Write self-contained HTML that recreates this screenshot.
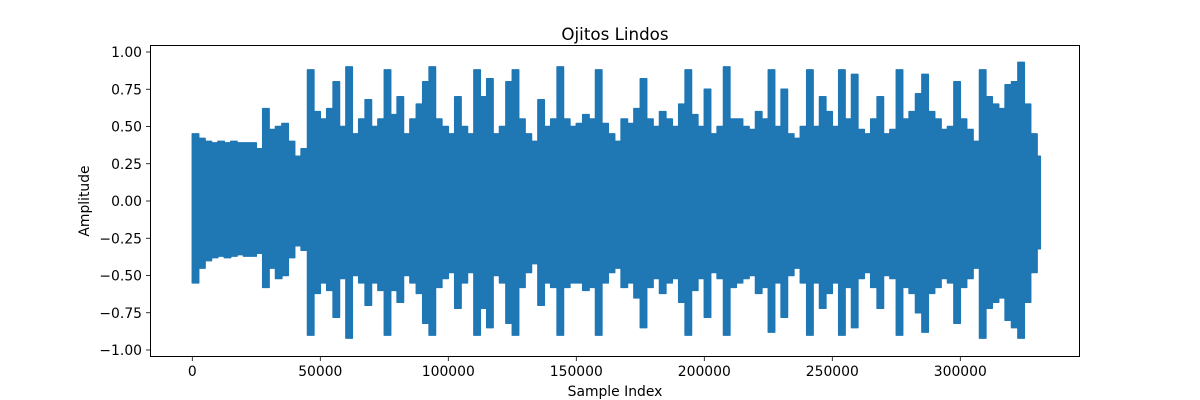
<!DOCTYPE html>
<html><head><meta charset="utf-8"><style>
body{margin:0;background:#fff;}
svg{display:block;font-family:"DejaVu Sans","Liberation Sans",sans-serif;}
</style></head><body>
<svg id="chart" width="1200" height="400">
<text x="615" y="40" text-anchor="middle" font-size="16.7">Ojitos Lindos</text>
<g id="plot"></g>
<g id="xaxis"></g>
<g id="yaxis"></g>
<rect x="150.5" y="45.5" width="929" height="311" fill="none" stroke="#000" stroke-width="1"/>
<text x="615" y="396" text-anchor="middle" font-size="13.9">Sample Index</text>
<text x="0" y="0" transform="translate(89,201) rotate(-90)" text-anchor="middle" font-size="13.9">Amplitude</text>
</svg>
<script>
const sampleStep = 2500;
const upperEnvelope = [0.45,0.42,0.40,0.39,0.40,0.39,0.40,0.39,0.39,0.39,0.35,0.62,0.48,0.50,0.52,0.40,0.30,0.35,0.88,0.60,0.55,0.62,0.80,0.50,0.90,0.45,0.55,0.68,0.50,0.55,0.88,0.58,0.70,0.45,0.55,0.65,0.80,0.90,0.55,0.50,0.45,0.70,0.50,0.45,0.88,0.70,0.82,0.45,0.50,0.80,0.88,0.55,0.45,0.40,0.68,0.50,0.55,0.90,0.55,0.50,0.52,0.58,0.55,0.88,0.52,0.45,0.40,0.55,0.52,0.62,0.82,0.55,0.50,0.60,0.55,0.50,0.65,0.88,0.58,0.50,0.75,0.45,0.50,0.90,0.55,0.55,0.50,0.48,0.60,0.55,0.88,0.50,0.75,0.45,0.42,0.50,0.88,0.50,0.70,0.60,0.50,0.88,0.55,0.85,0.48,0.45,0.55,0.70,0.45,0.48,0.88,0.55,0.60,0.72,0.85,0.60,0.55,0.48,0.50,0.80,0.55,0.48,0.40,0.88,0.70,0.65,0.62,0.78,0.80,0.93,0.65,0.45,0.30];
const lowerEnvelope = [-0.55,-0.45,-0.40,-0.38,-0.37,-0.38,-0.37,-0.36,-0.37,-0.37,-0.35,-0.58,-0.45,-0.52,-0.50,-0.38,-0.30,-0.33,-0.90,-0.62,-0.55,-0.60,-0.78,-0.52,-0.92,-0.50,-0.55,-0.70,-0.55,-0.60,-0.90,-0.60,-0.68,-0.50,-0.55,-0.62,-0.82,-0.90,-0.58,-0.52,-0.48,-0.72,-0.55,-0.48,-0.90,-0.72,-0.85,-0.50,-0.55,-0.82,-0.90,-0.58,-0.48,-0.42,-0.70,-0.55,-0.58,-0.90,-0.58,-0.55,-0.55,-0.60,-0.58,-0.90,-0.55,-0.48,-0.45,-0.58,-0.55,-0.65,-0.85,-0.58,-0.52,-0.62,-0.55,-0.52,-0.68,-0.90,-0.60,-0.52,-0.78,-0.48,-0.52,-0.90,-0.58,-0.55,-0.52,-0.50,-0.62,-0.58,-0.88,-0.55,-0.78,-0.50,-0.45,-0.55,-0.90,-0.55,-0.72,-0.62,-0.55,-0.90,-0.58,-0.85,-0.52,-0.48,-0.58,-0.72,-0.50,-0.52,-0.90,-0.58,-0.62,-0.75,-0.88,-0.62,-0.58,-0.52,-0.55,-0.82,-0.58,-0.52,-0.45,-0.92,-0.72,-0.68,-0.65,-0.80,-0.85,-0.92,-0.68,-0.48,-0.32];
const xTickValues = [0,50000,100000,150000,200000,250000,300000];
const xTickLabels = ["0","50000","100000","150000","200000","250000","300000"];
const yTickValues = [-1,-0.75,-0.5,-0.25,0,0.25,0.5,0.75,1];
const yTickLabels = ["\u22121.00","\u22120.75","\u22120.50","\u22120.25","0.00","0.25","0.50","0.75","1.00"];

const NS = "http://www.w3.org/2000/svg";
function xScale(s){ return 192.3 + s * 128 / 50000; }
function yScale(v){ return 201 - v * 149; }
function mk(tag, attrs, parent){ const e = document.createElementNS(NS, tag); for (const k in attrs) e.setAttribute(k, attrs[k]); parent.appendChild(e); return e; }

const plot = document.getElementById('plot');
const n = upperEnvelope.length;
let pts = [];
for (let i = 0; i < n; i++) {
  const x0 = xScale(i*sampleStep), x1 = xScale(Math.min((i+1)*sampleStep, (n-1)*sampleStep + sampleStep*0.5));
  const y = yScale(upperEnvelope[i]).toFixed(1);
  pts.push(x0.toFixed(1)+','+y, x1.toFixed(1)+','+y);
}
for (let i = n-1; i >= 0; i--) {
  const x0 = xScale(i*sampleStep), x1 = xScale(Math.min((i+1)*sampleStep, (n-1)*sampleStep + sampleStep*0.5));
  const y = yScale(lowerEnvelope[i]).toFixed(1);
  pts.push(x1.toFixed(1)+','+y, x0.toFixed(1)+','+y);
}
const wave = mk('polygon', {points: pts.join(' '), fill:'#1f77b4', stroke:'#1f77b4', 'stroke-width':'1.5', 'stroke-linejoin':'round'}, plot);



const xa = document.getElementById('xaxis');
xTickValues.forEach((v,i)=>{
  const x = xScale(v);
  const t = mk('line', {x1:x, x2:x, y1:357, y2:361, stroke:'#000', 'stroke-width':'0.8'}, xa);
  
  
  const l = mk('text', {x:x, y:376, 'text-anchor':'middle', 'font-size':'13.9'}, xa);
  l.textContent = xTickLabels[i];
  
  
});
const ya = document.getElementById('yaxis');
yTickValues.forEach((v,i)=>{
  const y = yScale(v);
  const t = mk('line', {x1:146, x2:150, y1:y, y2:y, stroke:'#000', 'stroke-width':'0.8'}, ya);
  
  
  const l = mk('text', {x:142, y:y+5, 'text-anchor':'end', 'font-size':'13.9'}, ya);
  l.textContent = yTickLabels[i];
  
  
});
</script>
</body></html>
